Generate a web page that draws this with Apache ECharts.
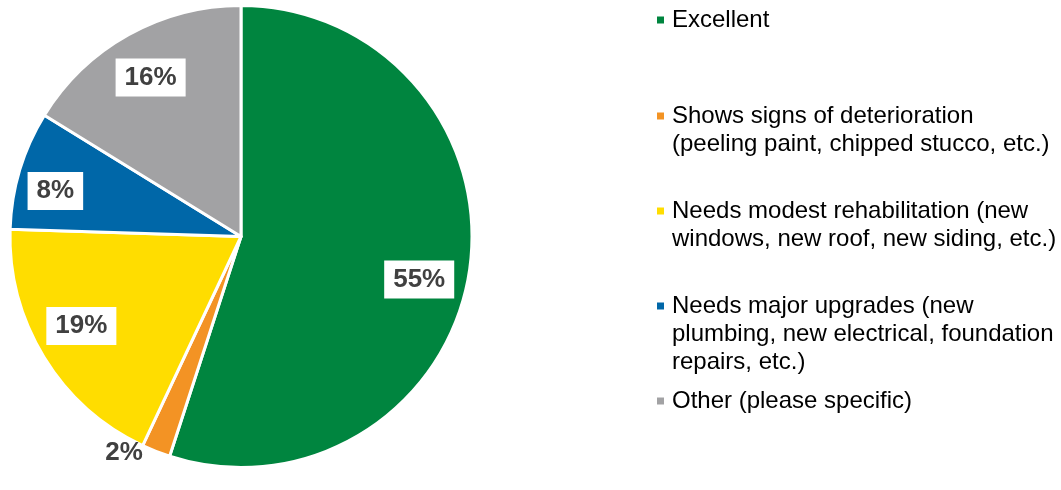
<!DOCTYPE html>
<html>
<head>
<meta charset="utf-8">
<script src="https://cdn.jsdelivr.net/npm/echarts@6/dist/echarts.min.js"></script>
<style>
  html, body { margin: 0; padding: 0; background: #ffffff; }
  #chart { width: 1061px; height: 490px; }
</style>
</head>
<body>
<div id="chart"></div>
<script>
// ---- data ----
const categories = [
  'Excellent',
  'Shows signs of deterioration\n(peeling paint, chipped stucco, etc.)',
  'Needs modest rehabilitation (new\nwindows, new roof, new siding, etc.)',
  'Needs major upgrades (new\nplumbing, new electrical, foundation\nrepairs, etc.)',
  'Other (please specific)'
];
const values = [55, 2, 18.5, 8.3, 16.2];
const colors = ['#00853F', '#F39324', '#FFDD00', '#0067A8', '#A2A2A4'];

// ---- layout ----
const FONT = '"Liberation Sans", Arial, Helvetica, sans-serif';
const CX = 241, CY = 236.5, R = 231;
const legendTops = [6, 102, 197, 292, 387];
const labelShift = [[-5, 14], [3, -4], [-1.5, -7.5], [-8, 8], [0, 3]];

const chart = echarts.init(document.getElementById('chart'), null, { renderer: 'canvas' });

const dataItems = categories.map((c, i) => ({
  name: c,
  value: values[i],
  itemStyle: { color: colors[i] }
}));

const richStyles = {
  g: { width: 8, height: 7, lineHeight: 28 },
  ind: { width: 15, height: 7, lineHeight: 28 },
  t: { fontSize: 24, lineHeight: 28, color: '#000000', fontFamily: FONT }
};
colors.forEach((c, i) => {
  richStyles['m' + i] = { width: 7, height: 7, backgroundColor: c, lineHeight: 28 };
});

const legends = categories.map((c, i) => ({
  data: [c],
  orient: 'vertical',
  left: 652,
  top: legendTops[i],
  padding: 0,
  icon: 'none',
  itemWidth: 0,
  itemHeight: 7,
  selectedMode: false,
  formatter: function (name) {
    const idx = categories.indexOf(name);
    return name.split('\n').map((l, k) =>
      (k === 0 ? '{m' + idx + '|}{g|}' : '{ind|}') + '{t|' + l + '}'
    ).join('\n');
  },
  textStyle: { fontSize: 24, lineHeight: 28, color: '#000000', fontFamily: FONT, rich: richStyles }
}));

const labelData = categories.map((c, i) => {
  const item = { name: c, value: values[i] };
  if (i === 1) {
    item.label = {
      position: 'outside',
      backgroundColor: 'transparent'
    };
    item.labelLine = { show: false, length: 6, length2: 0 };
  }
  return item;
});

chart.setOption({
  animation: false,
  backgroundColor: '#ffffff',
  legend: legends,
  series: [
    {
      type: 'pie',
      center: [CX, CY],
      radius: R,
      startAngle: 90,
      clockwise: true,
      silent: true,
      label: { show: false },
      labelLine: { show: false },
      itemStyle: { borderColor: '#ffffff', borderWidth: 3 },
      emphasis: { disabled: true },
      data: dataItems
    },
    {
      type: 'pie',
      center: [CX, CY],
      radius: [R * 0.58, R],
      startAngle: 90,
      clockwise: true,
      silent: true,
      itemStyle: { color: 'rgba(0,0,0,0)', borderWidth: 0 },
      emphasis: { disabled: true },
      labelLine: { show: false },
      label: {
        show: true,
        position: 'inside',
        formatter: p => Math.round(p.percent) + '%',
        fontFamily: FONT,
        fontWeight: 'bold',
        fontSize: 26,
        lineHeight: 30,
        color: '#404040',
        backgroundColor: '#ffffff',
        padding: [4, 9, 4, 9]
      },
      labelLayout: function (params) {
        const s = labelShift[params.dataIndex];
        return { dx: s[0], dy: s[1] };
      },
      data: labelData
    }
  ]
});
</script>
</body>
</html>
